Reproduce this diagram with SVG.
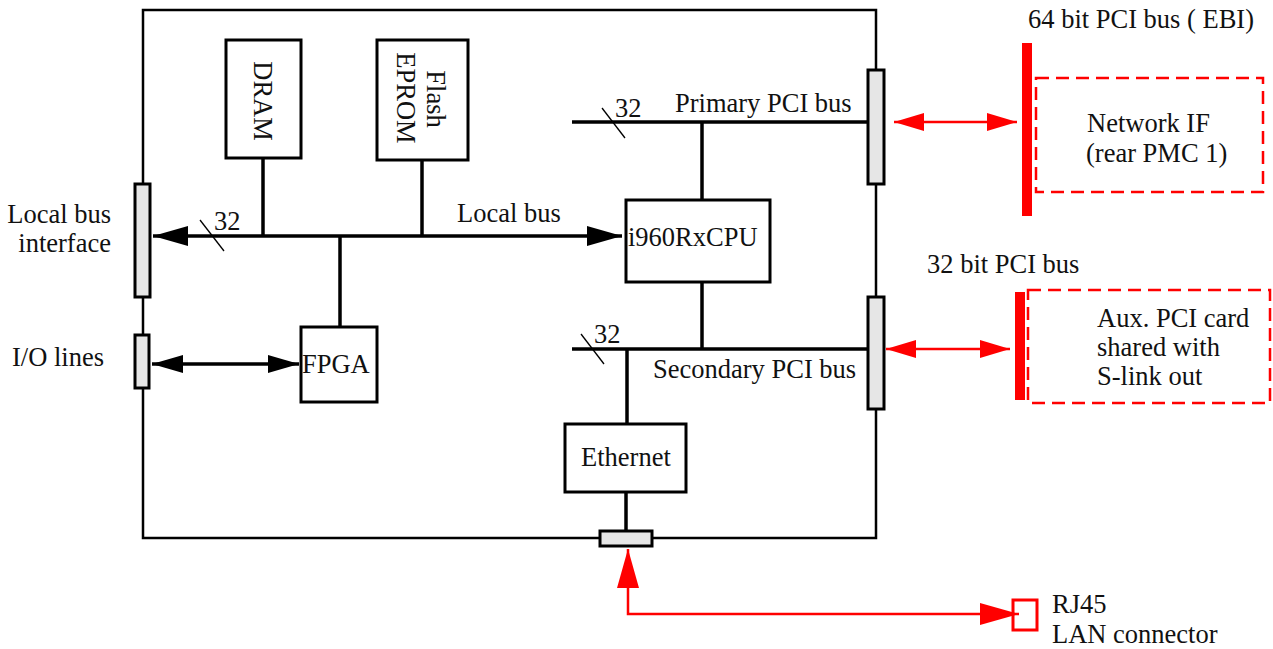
<svg xmlns="http://www.w3.org/2000/svg" width="1273" height="649" viewBox="0 0 1273 649">
<style>
text{font-family:"Liberation Serif","Times New Roman",serif;font-size:26.5px;fill:#111}
.box{fill:#fff;stroke:#000;stroke-width:3}
.board{fill:none;stroke:#000;stroke-width:2.5}
.conn{fill:#e6e6e6;stroke:#000;stroke-width:3}
.bus{fill:none;stroke:#000;stroke-width:3.5}
.slash{stroke:#000;stroke-width:1.3}
.red{fill:none;stroke:#f00;stroke-width:2.5}
.redbar{fill:#f00}
.dash{fill:none;stroke:#f00;stroke-width:2.5;stroke-dasharray:13 7}
</style>
<defs>
<marker id="ab" markerUnits="userSpaceOnUse" markerWidth="36" markerHeight="22" viewBox="0 0 36 22" refX="35" refY="11" orient="auto-start-reverse"><path d="M0,1 L35,11 L0,21 z" fill="#000"/></marker>
<marker id="abs" markerUnits="userSpaceOnUse" markerWidth="32" markerHeight="20" viewBox="0 0 32 20" refX="31" refY="10" orient="auto-start-reverse"><path d="M0,1 L31,10 L0,19 z" fill="#000"/></marker>
<marker id="ar" markerUnits="userSpaceOnUse" markerWidth="31" markerHeight="20" viewBox="0 0 31 20" refX="30" refY="10" orient="auto-start-reverse"><path d="M0,1 L30,10 L0,19 z" fill="#f00"/></marker>
<marker id="arl" markerUnits="userSpaceOnUse" markerWidth="40" markerHeight="24" viewBox="0 0 40 24" refX="39" refY="12" orient="auto-start-reverse"><path d="M0,1 L39,12 L0,23 z" fill="#f00"/></marker>
</defs>
<rect width="1273" height="649" fill="#fff"/>

<g id="board">
<path class="board" d="M143,10 H876 V538 H143 Z"/>
</g>

<g id="connectors">
<line class="bus" x1="263" y1="158" x2="263" y2="236"/>
<line class="bus" x1="422" y1="160" x2="422" y2="236"/>
<line class="bus" x1="340" y1="236" x2="340" y2="326"/>
<line class="bus" x1="153" y1="236" x2="622" y2="236" marker-start="url(#ab)" marker-end="url(#ab)"/>
<line class="slash" x1="200" y1="220" x2="224" y2="251"/>
<line class="bus" x1="152" y1="364" x2="299" y2="364" stroke-width="3" marker-start="url(#abs)" marker-end="url(#abs)"/>
<line class="bus" x1="572" y1="122" x2="868" y2="122"/>
<line class="bus" x1="702" y1="122" x2="702" y2="200"/>
<line class="slash" x1="602" y1="108" x2="625" y2="138"/>
<line class="bus" x1="572" y1="349" x2="868" y2="349"/>
<line class="bus" x1="702" y1="282" x2="702" y2="349"/>
<line class="bus" x1="627" y1="349" x2="627" y2="424"/>
<line class="slash" x1="581" y1="334" x2="604" y2="364"/>
<line class="bus" x1="626" y1="492" x2="626" y2="531" stroke-width="2.5"/>
<line class="red" x1="894" y1="122" x2="1017" y2="122" marker-start="url(#ar)" marker-end="url(#ar)"/>
<line class="red" x1="886" y1="349" x2="1010" y2="349" marker-start="url(#ar)" marker-end="url(#ar)"/>
<path class="red" stroke-width="3.5" d="M628,549 V614 H1019" marker-start="url(#arl)" marker-end="url(#arl)"/>
</g>

<g id="local-bus-interface">
<rect class="conn" x="135" y="184" width="15" height="113"/>
<text x="111" y="223" text-anchor="end">Local bus</text>
<text x="111" y="252" text-anchor="end">interface</text>
</g>
<g id="io-lines">
<rect class="conn" x="135" y="335" width="14" height="53"/>
<text x="12" y="366">I/O lines</text>
</g>
<g id="primary-conn"><rect class="conn" x="868" y="70" width="16" height="114"/></g>
<g id="secondary-conn"><rect class="conn" x="868" y="297" width="16" height="112"/></g>
<g id="bottom-conn"><rect class="conn" x="600" y="531" width="52" height="15"/></g>

<g id="dram">
<rect class="box" x="226" y="40" width="75" height="118"/>
<text transform="translate(254,101) rotate(90)" text-anchor="middle">DRAM</text>
</g>
<g id="flash">
<rect class="box" x="377" y="40" width="91" height="120"/>
<text transform="translate(427,99) rotate(90)" text-anchor="middle">Flash</text>
<text transform="translate(397,98) rotate(90)" text-anchor="middle">EPROM</text>
</g>
<g id="fpga">
<rect class="box" x="301" y="327" width="76" height="75"/>
<text x="302" y="373">FPGA</text>
</g>
<g id="cpu">
<rect class="box" x="626" y="200" width="144" height="82"/>
<text x="628" y="246">i960RxCPU</text>
</g>
<g id="ethernet">
<rect class="box" x="565" y="424" width="121" height="68"/>
<text x="581" y="466">Ethernet</text>
</g>

<g id="labels">
<text x="214" y="230">32</text>
<text x="457" y="222">Local bus</text>
<text x="615" y="117">32</text>
<text x="675" y="112">Primary PCI bus</text>
<text x="594" y="343">32</text>
<text x="653" y="378">Secondary PCI bus</text>
</g>

<g id="network-if">
<rect class="redbar" x="1022" y="43" width="10" height="173"/>
<rect class="dash" x="1036" y="78" width="227" height="114"/>
<text x="1028" y="28">64 bit PCI bus ( EBI)</text>
<text x="1087" y="132">Network IF</text>
<text x="1086" y="162">(rear PMC 1)</text>
</g>
<g id="aux-pci">
<rect class="redbar" x="1015" y="292" width="10" height="108"/>
<rect class="dash" x="1028" y="290" width="242" height="113"/>
<text x="927" y="273">32 bit PCI bus</text>
<text x="1097" y="327">Aux. PCI card</text>
<text x="1097" y="356">shared with</text>
<text x="1097" y="385">S-link out</text>
</g>
<g id="rj45">
<rect x="1013" y="600" width="24" height="30" fill="none" stroke="#f00" stroke-width="3"/>
<text x="1052" y="613">RJ45</text>
<text x="1052" y="643">LAN connector</text>
</g>
</svg>
